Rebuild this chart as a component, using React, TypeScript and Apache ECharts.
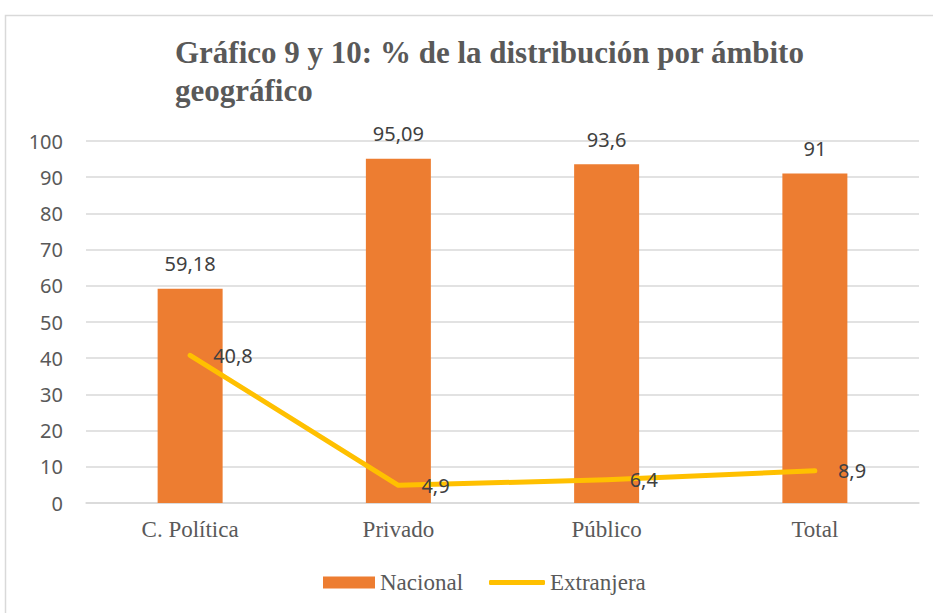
import React, { useEffect, useRef } from "react";
import * as echarts from "echarts";

const categories = ["C. Política", "Privado", "Público", "Total"];
const nacional = [59.18, 95.09, 93.6, 91];
const extranjera = [40.8, 4.9, 6.4, 8.9];
const titleText = "Gráfico 9 y 10: % de la distribución por ámbito\ngeográfico";

const fmt = (v: number) => String(v).replace(".", ",");

export default function App() {
  const ref = useRef<HTMLDivElement>(null);
  useEffect(() => {
    if (!ref.current) return;
    const chart = echarts.init(ref.current, undefined, { renderer: "svg" });
    const legendText = () => ({ fontFamily: "Liberation Serif", fontSize: 23, color: "#595959" });
    chart.setOption({
      animation: false,
      backgroundColor: "#ffffff",
      graphic: [
        {
          type: "rect",
          shape: { x: 5.5, y: 15.5, width: 1000, height: 1000 },
          style: { fill: "none", stroke: "#d9d9d9", lineWidth: 1.5 },
          silent: true,
        },
      ],
      title: {
        text: titleText,
        left: 170,
        top: 28,
        textStyle: {
          fontFamily: "Liberation Serif",
          fontWeight: "bold",
          fontSize: 31,
          color: "#595959",
          lineHeight: 38,
        },
      },
      grid: { left: 86, right: 14, top: 141, bottom: 110, containLabel: false },
      legend: [
        {
          left: 318,
          bottom: 14,
          data: [{ name: "Nacional", icon: "rect", textStyle: legendText() }],
          itemWidth: 52,
          itemHeight: 12,
          textStyle: legendText(),
        },
        {
          left: 484,
          bottom: 14,
          data: [{ name: "Extranjera", icon: "roundRect", itemStyle: { color: "#FFC000", opacity: 1 }, textStyle: legendText() }],
          itemWidth: 56,
          itemHeight: 5,
          textStyle: legendText(),
        },
      ],
      xAxis: {
        type: "category",
        data: categories,
        axisLine: { lineStyle: { color: "#d9d9d9", width: 1.5 } },
        axisTick: { show: false },
        axisLabel: { fontFamily: "Liberation Serif", fontSize: 23, color: "#595959", margin: 15 },
      },
      yAxis: {
        type: "value",
        min: 0,
        max: 100,
        interval: 10,
        axisLine: { show: false },
        axisTick: { show: false },
        splitLine: { lineStyle: { color: "#d9d9d9", width: 1.5 } },
        axisLabel: { fontFamily: "Noto Sans", fontSize: 20, color: "#595959", margin: 23 },
      },
      series: [
        {
          name: "Nacional",
          type: "bar",
          data: nacional,
          barWidth: 65,
          itemStyle: { color: "#ED7D31" },
          label: {
            show: true,
            position: "top",
            distance: 15,
            fontFamily: "Noto Sans",
            fontSize: 20,
            color: "#404040",
            formatter: (p: any) => fmt(p.value),
          },
        },
        {
          name: "Extranjera",
          type: "line",
          data: extranjera,
          symbol: "circle",
          symbolSize: 2,
          showSymbol: true,
          showAllSymbol: true,
          lineStyle: { color: "#FFC000", width: 5, cap: "round", join: "round" },
          itemStyle: { color: "#FFC000" },
          label: {
            show: true,
            position: "right",
            distance: 22,
            offset: [0, 2],
            fontFamily: "Noto Sans",
            fontSize: 20,
            color: "#404040",
            formatter: (p: any) => fmt(p.value),
          },
          labelLayout: { hideOverlap: false },
          z: 3,
        },
      ],
    });
    return () => chart.dispose();
  }, []);
  return (
    <div
      ref={ref}
      style={{ position: "fixed", left: 0, top: 0, width: 933, height: 613 }}
    />
  );
}
